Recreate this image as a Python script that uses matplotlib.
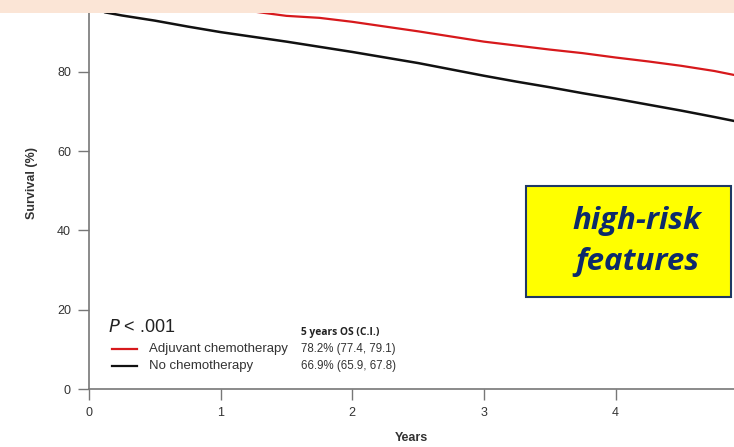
import matplotlib.pyplot as plt
from matplotlib.patches import Rectangle

plt.rcParams['font.family'] = ['Liberation Sans', 'DejaVu Sans']

# overall survival curves
years_adj = [0, 0.25, 0.5, 0.75, 1.0, 1.34, 1.5, 1.75, 2.0, 2.25, 2.5, 2.75, 3.0,
             3.25, 3.5, 3.75, 4.0, 4.25, 4.5, 4.75, 4.9]
surv_adj = [100, 99.3, 98.5, 97.4, 96.3, 94.8, 94.1, 93.6, 92.6, 91.4, 90.2, 88.9, 87.6,
            86.6, 85.6, 84.7, 83.6, 82.6, 81.5, 80.2, 79.2]

years_no = [0, 0.05, 0.12, 0.25, 0.5, 0.75, 1.0, 1.25, 1.5, 1.75, 2.0, 2.25, 2.5,
            2.75, 3.0, 3.25, 3.5, 3.75, 4.0, 4.25, 4.5, 4.75, 4.9]
surv_no = [99.5, 97.5, 95.0, 94.2, 92.9, 91.4, 90.0, 88.8, 87.6, 86.3, 85.0, 83.6, 82.2,
           80.6, 79.0, 77.5, 76.1, 74.6, 73.2, 71.7, 70.2, 68.6, 67.6]

labels = ['Adjuvant chemotherapy', 'No chemotherapy']
os5 = ['78.2% (77.4, 79.1)', '66.9% (65.9, 67.8)']
colors = ['#d7191c', '#111111']

W, H = 734, 447
fig = plt.figure(figsize=(W / 100, H / 100), dpi=100)
ax = fig.add_axes([89 / W, (H - 389) / H, (W - 89) / W, 389 / H])

ax.plot(years_adj, surv_adj, color=colors[0], lw=1.6)
ax.plot(years_no, surv_no, color=colors[1], lw=1.8)

ax.set_xlim(0, 4.90)
ax.set_ylim(0, 98.1)
ax.set_xticks([0, 1, 2, 3, 4])
ax.set_yticks([0, 20, 40, 60, 80])
for s in ['top', 'right']:
    ax.spines[s].set_visible(False)
for s in ['left', 'bottom']:
    ax.spines[s].set_color('#777777')
    ax.spines[s].set_linewidth(1.2)
ax.tick_params(length=8, width=1, color='#777777', labelsize=9, labelcolor='#333333', pad=5)

ax.set_xlabel('Years', fontsize=9, fontweight='bold', color='#333333', labelpad=9)
fig.text(32 / W, 1 - 183 / H, 'Survival (%)', rotation=90, fontsize=9, fontweight='bold',
         color='#333333', ha='center', va='center')

# legend block
fig.text(108 / W, 1 - 328 / H, r'$\it{P}$ < .001', fontsize=13, color='#222222', va='center')
fig.text(301 / W, 1 - 332 / H, '5 years OS (C.I.)', fontsize=7.4, fontweight='bold',
         family=['Open Sans', 'DejaVu Sans'], color='#222222', va='center')
for i, yy in enumerate([349, 366]):
    fig.add_artist(plt.Line2D([112 / W, 137 / W], [1 - yy / H, 1 - yy / H],
                              color=colors[i], lw=1.6))
    fig.text(149 / W, 1 - yy / H, labels[i], fontsize=9.5, color='#333333', va='center')
    fig.text(301 / W, 1 - yy / H, os5[i], fontsize=8.3, color='#333333', va='center')

# yellow callout
fig.add_artist(Rectangle((526 / W, 1 - 297 / H), (731 - 526) / W, (297 - 186) / H,
                         transform=fig.transFigure, facecolor='#ffff00',
                         edgecolor='#1f3864', lw=1.5))
fig.text(637 / W, 1 - 221 / H, 'high-risk', fontsize=22.5, fontweight='bold', style='italic',
         family=['Open Sans', 'DejaVu Sans'], color='#0d2a6b', ha='center', va='center')
fig.text(637 / W, 1 - 262 / H, 'features', fontsize=22.5, fontweight='bold', style='italic',
         family=['Open Sans', 'DejaVu Sans'], color='#0d2a6b', ha='center', va='center')

# peach header band
fig.add_artist(Rectangle((0, 1 - 13 / H), 1, 13 / H, transform=fig.transFigure,
                         facecolor='#fbe5d6', edgecolor='none', zorder=10))

fig.savefig('out.png', dpi=100)
